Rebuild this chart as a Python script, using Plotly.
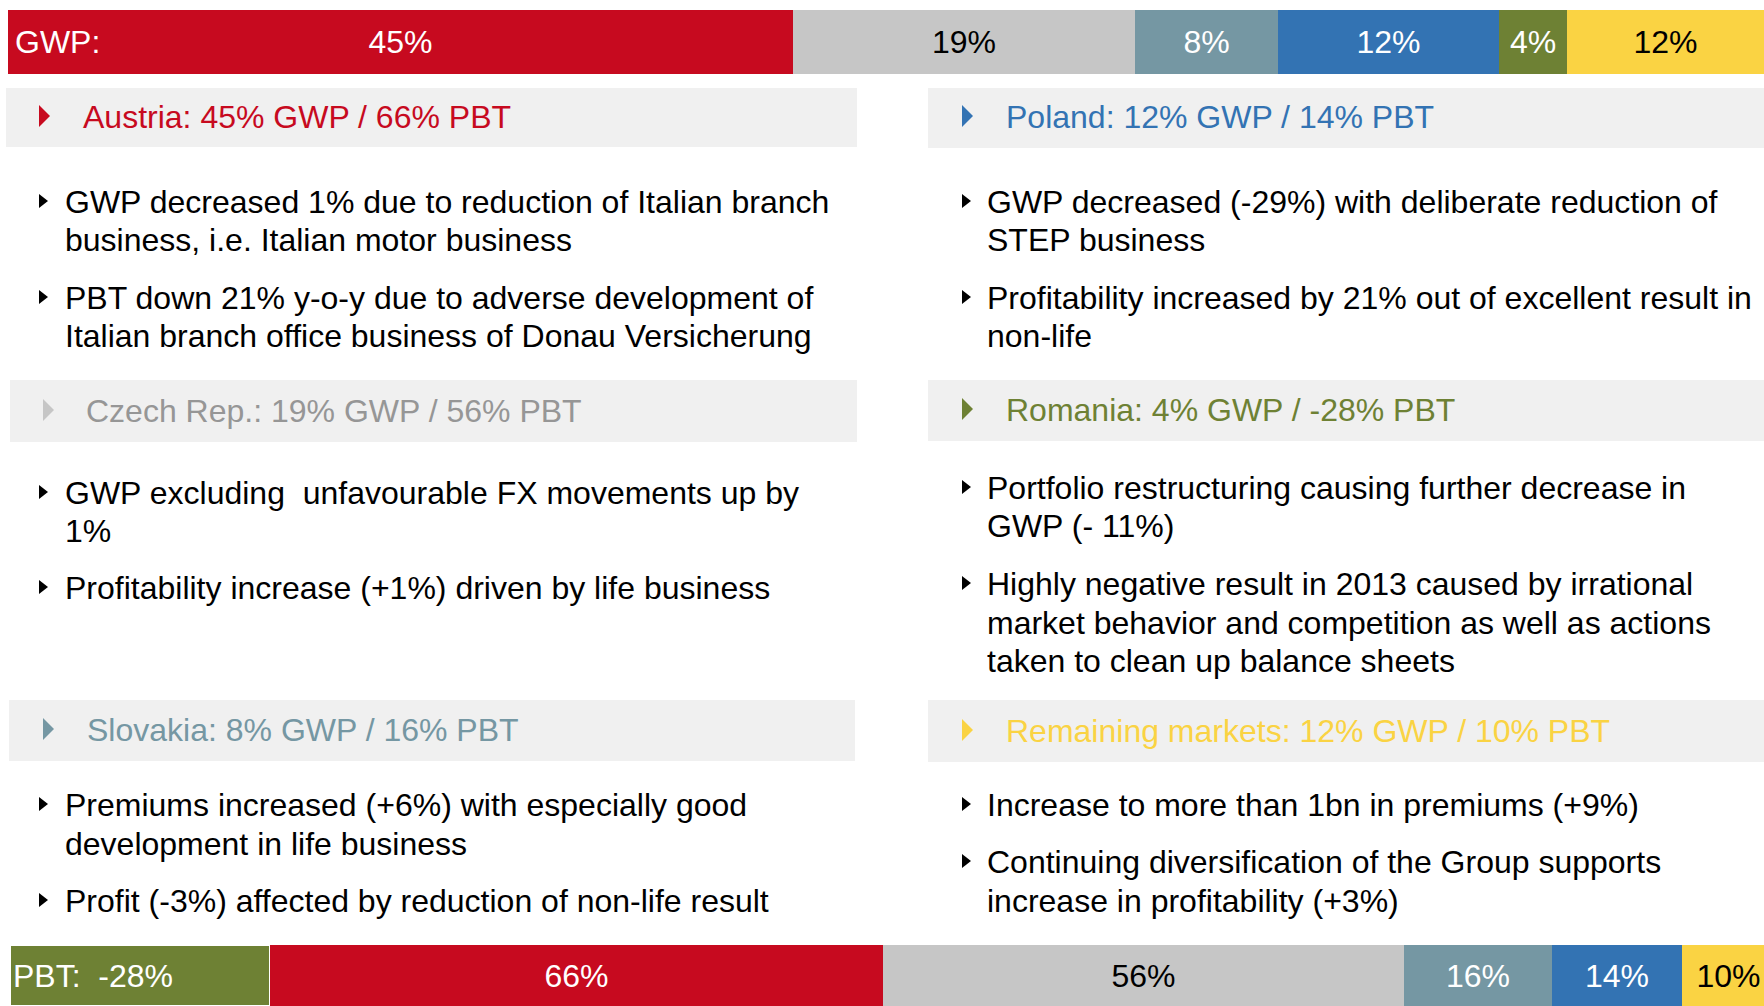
import plotly.graph_objects as go

# ---------------- data ----------------
segments = ["Austria", "Czech Rep.", "Slovakia", "Poland", "Romania", "Remaining markets"]
gwp_labels = ["45%", "19%", "8%", "12%", "4%", "12%"]
gwp_share = [44.7, 19.5, 8.1, 12.6, 3.9, 11.2]          # bar widths
pbt_order = ["Romania", "Austria", "Czech Rep.", "Slovakia", "Poland", "Remaining markets"]
pbt_values = [-28, 66, 56, 16, 14, 10]
pbt_labels = ["PBT:\u00a0\u00a0-28%", "66%", "56%", "16%", "14%", "10%"]

headers = {
    "Austria": "Austria: 45% GWP / 66% PBT",
    "Czech Rep.": "Czech Rep.: 19% GWP / 56% PBT",
    "Slovakia": "Slovakia: 8% GWP / 16% PBT",
    "Poland": "Poland: 12% GWP / 14% PBT",
    "Romania": "Romania: 4% GWP / -28% PBT",
    "Remaining markets": "Remaining markets: 12% GWP / 10% PBT",
}

left_lines = [
    (True, "GWP decreased 1% due to reduction of Italian branch"),
    (False, "business, i.e. Italian motor business"),
    (True, "PBT down 21% y-o-y due to adverse development of"),
    (False, "Italian branch office business of Donau Versicherung"),
    (True, "GWP excluding\u00a0 unfavourable FX movements up by"),
    (False, "1%"),
    (True, "Profitability increase (+1%) driven by life business"),
    (True, "Premiums increased (+6%) with especially good"),
    (False, "development in life business"),
    (True, "Profit (-3%) affected by reduction of non-life result"),
]
right_lines = [
    (True, "GWP decreased (-29%) with deliberate reduction of"),
    (False, "STEP business"),
    (True, "Profitability increased by 21% out of excellent result in"),
    (False, "non-life"),
    (True, "Portfolio restructuring causing further decrease in"),
    (False, "GWP (- 11%)"),
    (True, "Highly negative result in 2013 caused by irrational"),
    (False, "market behavior and competition as well as actions"),
    (False, "taken to clean up balance sheets"),
    (True, "Increase to more than 1bn in premiums (+9%)"),
    (True, "Continuing diversification of the Group supports"),
    (False, "increase in profitability (+3%)"),
]

# ---------------- styles ----------------
W, H = 1764, 1006
FONT = "Liberation Sans, Arial, sans-serif"
FS = 32
colors = {
    "Austria": "#C70A1F",
    "Czech Rep.": "#C6C6C6",
    "Slovakia": "#7597A3",
    "Poland": "#3373B3",
    "Romania": "#6E8134",
    "Remaining markets": "#FAD343",
}
text_colors = {
    "Austria": "white",
    "Czech Rep.": "black",
    "Slovakia": "white",
    "Poland": "white",
    "Romania": "white",
    "Remaining markets": "black",
}
header_text_colors = dict(colors)
header_text_colors["Czech Rep."] = "#969696"
header_tri_colors = dict(colors)
header_tri_colors["Czech Rep."] = "#C6C6C6"

left_line_y = [201, 239, 297, 335, 492, 530, 587, 804, 843, 900]
right_line_y = [201, 239, 297, 335, 487, 525, 583, 622, 660, 804, 861, 900]

header_layout = {
    # name: (box x0, x1, y0, y1, tri x0, text x, center y)
    "Austria": (6, 857, 88, 147, 39, 81, 116),
    "Czech Rep.": (10, 857, 380, 442, 43, 84, 410),
    "Slovakia": (9, 855, 700, 761, 43, 85, 729),
    "Poland": (928, 1764, 88, 148, 962, 1004, 116),
    "Romania": (928, 1764, 380, 441, 962, 1004, 409),
    "Remaining markets": (928, 1764, 700, 762, 962, 1004, 730),
}


def px(x):
    return x / W


def py(y):
    return 1 - y / H


fig = go.Figure()

# GWP bar
for name, lab, val in zip(segments, gwp_labels, gwp_share):
    fig.add_trace(go.Bar(
        x=[val], y=["GWP"], orientation="h",
        marker=dict(color=colors[name], line=dict(width=0)),
        text=[lab], textposition="inside", insidetextanchor="middle",
        constraintext="none",
        textfont=dict(color=text_colors[name], size=FS, family=FONT),
        xaxis="x", yaxis="y", showlegend=False, hoverinfo="skip",
    ))

# PBT bar
for name, lab, val in zip(pbt_order, pbt_labels, pbt_values):
    fig.add_trace(go.Bar(
        x=[abs(val)], y=["PBT"], orientation="h",
        marker=dict(color=colors[name],
                    line=dict(width=2 if val < 0 else 0, color="white")),
        text=[lab], textposition="inside",
        insidetextanchor="start" if val < 0 else "middle",
        constraintext="none",
        textfont=dict(color=text_colors[name], size=FS, family=FONT),
        xaxis="x2", yaxis="y2", showlegend=False, hoverinfo="skip",
    ))

shapes = []
annotations = []

# GWP label
annotations.append(dict(
    x=px(13), y=py(42), xref="paper", yref="paper", xanchor="left", yanchor="middle",
    text="GWP:", showarrow=False, font=dict(color="white", size=FS, family=FONT),
))

# Headers
for name, (bx0, bx1, by0, by1, tx, textx, cy) in header_layout.items():
    shapes.append(dict(type="rect", xref="paper", yref="paper",
                       x0=px(bx0), x1=px(bx1), y0=py(by1), y1=py(by0),
                       fillcolor="#F0F0F0", line=dict(width=0), layer="below"))
    tri = "M {:.5f} {:.5f} L {:.5f} {:.5f} L {:.5f} {:.5f} Z".format(
        px(tx), py(cy - 11), px(tx + 11), py(cy), px(tx), py(cy + 11))
    shapes.append(dict(type="path", xref="paper", yref="paper", path=tri,
                       fillcolor=header_tri_colors[name], line=dict(width=0)))
    annotations.append(dict(
        x=px(textx), y=py(cy + 1), xref="paper", yref="paper",
        xanchor="left", yanchor="middle", text=headers[name], showarrow=False,
        font=dict(color=header_text_colors[name], size=FS, family=FONT),
    ))


def add_lines(lines, ys, bullet_x, text_x):
    for (bullet, txt), y in zip(lines, ys):
        if bullet:
            tri = "M {:.5f} {:.5f} L {:.5f} {:.5f} L {:.5f} {:.5f} Z".format(
                px(bullet_x), py(y - 7), px(bullet_x + 9), py(y), px(bullet_x), py(y + 7))
            shapes.append(dict(type="path", xref="paper", yref="paper", path=tri,
                               fillcolor="black", line=dict(width=0)))
        annotations.append(dict(
            x=px(text_x), y=py(y + 1), xref="paper", yref="paper",
            xanchor="left", yanchor="middle", text=txt, showarrow=False,
            font=dict(color="black", size=FS, family=FONT),
        ))


add_lines(left_lines, left_line_y, 39, 63)
add_lines(right_lines, right_line_y, 962, 985)

fig.update_layout(
    width=W, height=H,
    margin=dict(l=0, r=0, t=0, b=0),
    paper_bgcolor="white", plot_bgcolor="rgba(0,0,0,0)",
    barmode="stack", bargap=0,
    xaxis=dict(domain=[px(8), 1], range=[0, sum(gwp_share)], visible=False, fixedrange=True),
    yaxis=dict(domain=[py(74), py(10)], range=[-0.5, 0.5], visible=False, fixedrange=True),
    xaxis2=dict(domain=[px(10), 1], range=[0, 188.8], visible=False, anchor="y2", fixedrange=True),
    yaxis2=dict(domain=[0, py(945)], range=[-0.5, 0.5], visible=False, anchor="x2", fixedrange=True),
    shapes=shapes,
    annotations=annotations,
    font=dict(family=FONT),
)

fig.write_html(
    "out.html",
    config={"displayModeBar": False},
    post_script="document.body.style.margin='0';document.body.style.overflow='hidden';",
)
